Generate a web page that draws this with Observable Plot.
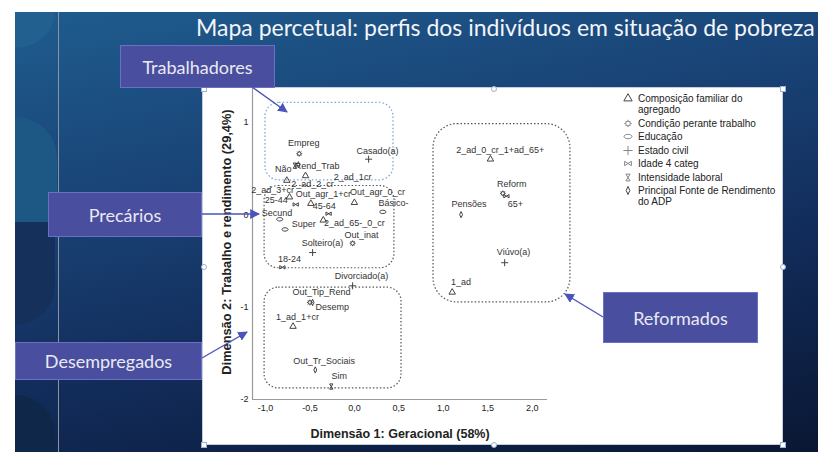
<!DOCTYPE html>
<html><head><meta charset="utf-8">
<script src="https://cdn.jsdelivr.net/npm/d3@7"></script>
<script src="https://cdn.jsdelivr.net/npm/@observablehq/plot@0.6"></script>
<style>
body{margin:0;width:818px;height:452px;overflow:hidden;background:#fff;position:relative;font-family:Lato,"Open Sans",sans-serif}
.abs{position:absolute}
#bg{left:15px;top:12px;width:803px;height:440px;background:linear-gradient(168deg,#1f5c8e 0%,#1a4679 30%,#122d5c 62%,#0a1733 100%)}
#title{left:196px;top:12px;color:#f3f5f9;font-size:23px;white-space:nowrap;line-height:30px}
#panel{left:203px;top:88px;width:579px;height:356px;background:#fff;box-shadow:0 0 0 1px #c5cede}
#chart{position:absolute;left:0;top:0}
.callout{position:absolute;background:#4a4e9e;border:1px solid #6a70c2;color:#e9e9f4;font-size:18px;display:flex;align-items:center;justify-content:center;box-sizing:border-box}
#legend{position:absolute;left:419px;top:5px;font-family:"Liberation Sans",Arial,sans-serif;font-size:10px;color:#222;white-space:nowrap}
.li{display:flex;align-items:flex-start;margin-bottom:2.5px;line-height:11px}
.li svg{flex:none;width:12px;height:11px;margin-right:4px}
.handle{position:absolute;width:4px;height:4px;background:#fff;border:1px solid #9db2d0}
</style></head>
<body>
<div id="bg" class="abs"></div>
<div class="abs" style="left:15px;top:12px;width:40px;height:36px;background:#22608f;border-bottom-right-radius:40px 36px"></div>
<div class="abs" style="left:15px;top:117px;width:42px;height:105px;background:#1d5784;border-top-right-radius:42px 40px"></div>
<div class="abs" style="left:15px;top:222px;width:40px;height:103px;background:#15305b;border-bottom-right-radius:40px 40px"></div>
<div class="abs" style="left:15px;top:395px;width:40px;height:57px;background:#0f2748;border-top-right-radius:40px 40px"></div>
<div class="abs" style="left:58px;top:12px;width:1px;height:440px;background:#8d939e"></div>
<div class="abs" style="left:54px;top:228px;width:7px;height:7px;border-radius:50%;background:#fff;border:1px solid #aaa;box-sizing:border-box"></div>
<div id="title" class="abs">Mapa percetual: perfis dos indivíduos em situação de pobreza</div>
<div id="panel" class="abs"><div id="chart"></div><div id="legend"></div></div>
<div class="handle" style="left:201px;top:86px"></div>
<div class="handle" style="left:780px;top:86px"></div>
<div class="handle" style="left:201px;top:442px"></div>
<div class="handle" style="left:780px;top:442px"></div>
<div class="handle" style="left:491px;top:86px;border-radius:50%"></div>
<div class="handle" style="left:201px;top:264px;border-radius:50%"></div>
<div class="handle" style="left:780px;top:264px;border-radius:50%"></div>
<div class="handle" style="left:491px;top:442px;border-radius:50%"></div>
<div class="callout" style="left:120px;top:45px;width:155px;height:43px">Trabalhadores</div>
<div class="callout" style="left:48px;top:192px;width:154px;height:45px">Precários</div>
<div class="callout" style="left:15px;top:342px;width:187px;height:38px">Desempregados</div>
<div class="callout" style="left:603px;top:292px;width:155px;height:51px">Reformados</div>
<svg class="abs" style="left:0;top:0" width="818" height="452">
<defs><marker id="ah" viewBox="0 0 10 10" refX="9" refY="5" markerWidth="7" markerHeight="7" orient="auto"><path d="M0,0L10,5L0,10z" fill="#4b54b8"/></marker></defs>
<g stroke="#4b54b8" stroke-width="1.4" fill="none" marker-end="url(#ah)">
<line x1="252" y1="87" x2="287" y2="112"/>
<line x1="202" y1="214" x2="259" y2="214"/>
<line x1="202" y1="358" x2="247" y2="332"/>
<line x1="603" y1="317" x2="565" y2="294"/>
</g></svg>
<script>
// ---- data ----
const categories = ["Composição familiar do agregado","Condição perante trabalho","Educação","Estado civil","Idade 4 categ","Intensidade laboral","Principal Fonte de Rendimento do ADP"];
const legendLines = [["Composição familiar do","agregado"],["Condição perante trabalho"],["Educação"],["Estado civil"],["Idade 4 categ"],["Intensidade laboral"],["Principal Fonte de Rendimento","do ADP"]];
const names = ["Empreg","Casado(a)","Não","Rend_Trab","2_ad_1cr","2_ad_2_cr","2_ad_3+cr","25-44","Out_agr_1+cr","45-64","Out_agr_0_cr","Básico-","Secund","Super","2_ad_65-_0_cr","Out_inat","Solteiro(a)","18-24","Divorciado(a)","2_ad_0_cr_1+ad_65+","Reform","65+","Pensões","Viúvo(a)","1_ad","Out_Tip_Rend","Desemp","1_ad_1+cr","Out_Tr_Sociais","Sim"];
const groupIndex = [1,3,5,6,0,0,0,4,0,4,0,2,2,2,0,1,3,4,3,0,1,4,6,3,0,6,1,0,6,5];
const dim1 = [-0.62,0.16,-0.67,-0.63,-0.55,-0.76,-0.73,-0.66,-0.49,-0.29,0.00,0.32,-0.84,-0.78,-0.35,-0.02,-0.47,-0.81,-0.02,1.53,1.67,1.71,1.20,1.69,1.10,-0.47,-0.50,-0.69,-0.44,-0.26];
const dim2 = [0.66,0.60,0.53,0.54,0.42,0.37,0.19,0.11,0.12,0.01,0.13,0.03,-0.05,-0.16,-0.06,-0.31,-0.41,-0.57,-0.77,0.60,0.23,0.20,0.00,-0.52,-0.84,-0.95,-0.95,-1.21,-1.68,-1.86];
const labelDim1 = [-0.57,0.26,-0.80,-0.42,-0.02,-0.47,-0.92,-0.88,-0.35,-0.34,0.26,0.44,-0.87,-0.57,0.00,0.08,-0.36,-0.73,0.08,1.64,1.77,1.81,1.29,1.79,1.20,-0.37,-0.25,-0.64,-0.34,-0.17];
const labelDim2 = [0.77,0.69,0.49,0.52,0.41,0.33,0.27,0.16,0.22,0.09,0.24,0.12,0.02,-0.10,-0.09,-0.22,-0.31,-0.48,-0.66,0.70,0.33,0.11,0.11,-0.41,-0.73,-0.84,-1.00,-1.11,-1.58,-1.75];
const clusterNames = ["Trabalhadores","Precários","Desempregados","Reformados"];
const clusterX1 = [-1.00,-1.01,-1.01,0.89];
const clusterX2 = [0.44,0.45,0.53,2.43];
const clusterY1 = [0.37,-0.58,-1.88,-0.95];
const clusterY2 = [1.21,0.31,-0.79,0.98];
const xDomain = [-1.146, 2.172];
const yDomain = [-2, 1.365];
const xTicks = [-1,-0.5,0,0.5,1,1.5,2];
const xTickLabels = ["-1,0","-0,5","0,0","0,5","1,0","1,5","2,0"];
const yTicks = [-2,-1,0,1];
const yTickLabels = ["-2","-1","0","1"];
const xTitle = "Dimensão 1: Geracional (58%)";
const yTitle = "Dimensão 2: Trabalho e rendimento (29,4%)";

// ---- custom symbols ----
const R = s => Math.sqrt(s/Math.PI);
const symGear = {draw(c,s){const r=R(s)*0.75;c.moveTo(r,0);c.arc(0,0,r,0,2*Math.PI);for(let k=0;k<8;k++){const a=k*Math.PI/4;c.moveTo(Math.cos(a)*r,Math.sin(a)*r);c.lineTo(Math.cos(a)*r*1.6,Math.sin(a)*r*1.6);}}};
const symEllipse = {draw(c,s){const r=R(s),a=r*1.3,b=r*0.7,k=0.5523;c.moveTo(a,0);c.bezierCurveTo(a,b*k,a*k,b,0,b);c.bezierCurveTo(-a*k,b,-a,b*k,-a,0);c.bezierCurveTo(-a,-b*k,-a*k,-b,0,-b);c.bezierCurveTo(a*k,-b,a,-b*k,a,0);c.closePath();}};
const symBowtie = {draw(c,s){const r=R(s);c.moveTo(-r*1.1,-r*0.7);c.lineTo(r*1.1,r*0.7);c.lineTo(r*1.1,-r*0.7);c.lineTo(-r*1.1,r*0.7);c.closePath();}};
const symHourglass = {draw(c,s){const r=R(s);c.moveTo(-r*0.7,-r*1.1);c.lineTo(r*0.7,-r*1.1);c.lineTo(-r*0.7,r*1.1);c.lineTo(r*0.7,r*1.1);c.closePath();}};
const symDiamond = {draw(c,s){const r=R(s);c.moveTo(0,-r*1.3);c.lineTo(r*0.6,0);c.lineTo(0,r*1.3);c.lineTo(-r*0.6,0);c.closePath();}};
const symbolsRange = [d3.symbolTriangle, symGear, symEllipse, d3.symbolPlus, symBowtie, symHourglass, symDiamond];

const points = names.map((n,i)=>({name:n, cat:categories[groupIndex[i]], x:dim1[i], y:dim2[i], lx:labelDim1[i], ly:labelDim2[i]}));
const clusters = clusterNames.map((n,i)=>({name:n, x1:clusterX1[i], x2:clusterX2[i], y1:clusterY1[i], y2:clusterY2[i]}));
const font = "'Liberation Sans', Arial, sans-serif";

const chart = Plot.plot({
  width: 579, height: 356,
  marginLeft: 49, marginRight: 235, marginTop: 0, marginBottom: 45,
  style: {background: "transparent", fontFamily: font, overflow: "visible"},
  x: {domain: xDomain},
  y: {domain: yDomain},
  symbol: {domain: categories, range: symbolsRange},
  marks: [
    Plot.axisX({ticks: xTicks, tickFormat: d=>xTickLabels[xTicks.indexOf(d)], tickSize: 0, tickPadding: 5, fontSize: 9, fill: "#222", label: null}),
    Plot.axisY({ticks: yTicks, tickFormat: d=>yTickLabels[yTicks.indexOf(d)], tickSize: 0, tickPadding: 4, fontSize: 9, fill: "#222", label: null}),
    Plot.ruleY([yDomain[0]], {x1: xDomain[0], x2: xDomain[1], stroke: "#9a9a9a", strokeWidth: 1.2}),
    Plot.ruleX([xDomain[0]], {y1: yDomain[0], y2: yDomain[1], stroke: "#9a9a9a", strokeWidth: 1.2}),
    Plot.rect(clusters.filter(d=>d.name==="Trabalhadores"), {x1:"x1", x2:"x2", y1:"y1", y2:"y2", rx: 14, fill: "none", stroke: "#7fa6da", strokeWidth: 1.3, strokeDasharray: "1.5,2.2"}),
    Plot.rect(clusters.filter(d=>d.name==="Precários"||d.name==="Desempregados"), {x1:"x1", x2:"x2", y1:"y1", y2:"y2", rx: 14, fill: "none", stroke: "#555", strokeWidth: 1.2, strokeDasharray: "1.5,2"}),
    Plot.rect(clusters.filter(d=>d.name==="Reformados"), {x1:"x1", x2:"x2", y1:"y1", y2:"y2", rx: 24, fill: "none", stroke: "#555", strokeWidth: 1.2, strokeDasharray: "1.5,2"}),
    Plot.dot(points, {x:"x", y:"y", symbol:"cat", r: 2.4, stroke: "#444", strokeWidth: 1, fill: "none"}),
    Plot.text(points, {x:"lx", y:"ly", text:"name", fontSize: 9, fill: "#333", fontFamily: font}),
    Plot.text([yTitle], {frameAnchor: "left", textAnchor: "middle", lineAnchor: "middle", rotate: -90, dx: -26, dy: -2, fontSize: 12.8, fontWeight: "bold", fill: "#222", fontFamily: font}),
    Plot.text([xTitle], {frameAnchor: "bottom", textAnchor: "middle", lineAnchor: "middle", dy: 34, fontSize: 12.5, fontWeight: "bold", fill: "#222", fontFamily: font})
  ]
});
document.getElementById("chart").appendChild(chart);

// legend
const lg = document.getElementById("legend");
legendLines.forEach((lines,i)=>{
  const row = document.createElement("div"); row.className = "li";
  const svg = d3.create("svg").attr("viewBox","-6 -5.5 12 11");
  svg.append("path").attr("d", d3.symbol(symbolsRange[i], 30)()).attr("fill","none").attr("stroke", i===0||i===6 ? "#444" : "#888").attr("stroke-width",1);
  row.appendChild(svg.node());
  const t = document.createElement("div"); t.innerHTML = lines.join("<br>");
  row.appendChild(t);
  lg.appendChild(row);
});
</script>
</body></html>
